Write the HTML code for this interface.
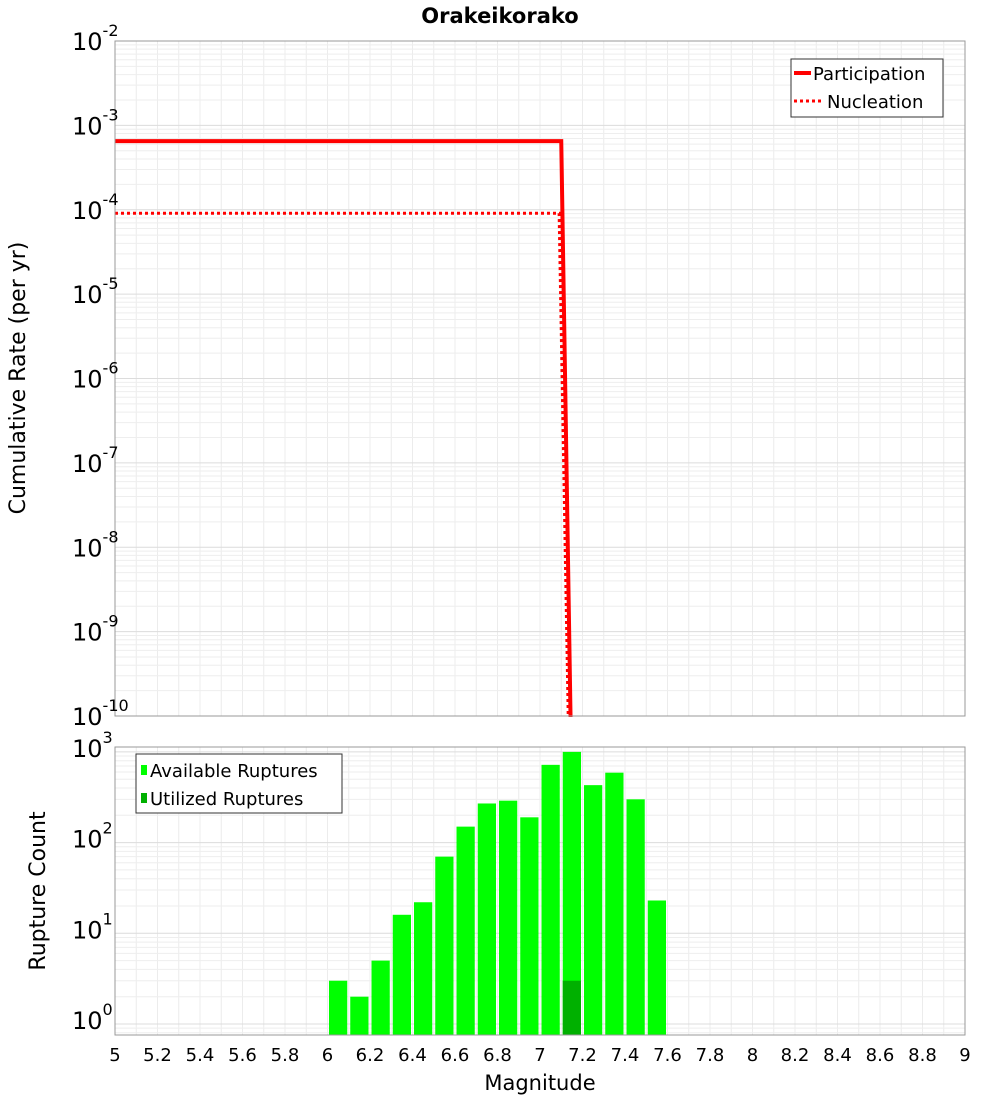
<!DOCTYPE html>
<html><head><meta charset="utf-8"><style>
body{margin:0;background:#fff;font-family:"Liberation Sans","DejaVu Sans",sans-serif}
</style></head><body>
<svg id="c" width="1000" height="1100" xmlns="http://www.w3.org/2000/svg" font-family="DejaVu Sans, Liberation Sans, sans-serif">
<text x="500" y="23" text-anchor="middle" font-weight="bold" font-size="21">Orakeikorako</text>
<g id="top"></g><g id="bot"></g>
<text transform="translate(25,378) rotate(-90)" text-anchor="middle" font-size="22">Cumulative Rate (per yr)</text>
<text transform="translate(45,891) rotate(-90)" text-anchor="middle" font-size="22">Rupture Count</text>
<text x="540" y="1090" text-anchor="middle" font-size="21">Magnitude</text>
</svg>
<script>
const partMags=[5.0,7.1,7.15];
const partRates=[6.5e-4,6.5e-4,1e-11];
const nuclMags=[5.0,7.09,7.14];
const nuclRates=[9.1e-5,9.1e-5,1e-11];
const binMags=[6.0,6.1,6.2,6.3,6.4,6.5,6.6,6.7,6.8,6.9,7.0,7.1,7.2,7.3,7.4,7.5];
const availCounts=[3,2,5,16,22,70,150,270,290,190,720,1000,430,590,300,23];
const usedMags=[7.1];
const usedCounts=[3];
const xTicks=[5,5.2,5.4,5.6,5.8,6,6.2,6.4,6.6,6.8,7,7.2,7.4,7.6,7.8,8,8.2,8.4,8.6,8.8,9];
const topExps=[-2,-3,-4,-5,-6,-7,-8,-9,-10];
const botExps=[3,2,1,0];

const NS='http://www.w3.org/2000/svg';
const X0=115,X1=965;
const xs=m=>X0+(m-5)/4*(X1-X0);
const T0=41,T1=716;
const yt=v=>T0+(-2-Math.log10(v))*(T1-T0)/8;
const B0=747,B1=1035;
const yb=v=>1024-Math.log10(v)*90.7;
function mk(p,tag,a,txt){const e=document.createElementNS(NS,tag);for(const k in a)e.setAttribute(k,a[k]);if(txt!==undefined)e.textContent=txt;p.appendChild(e);return e;}
const topG=document.getElementById('top'),botG=document.getElementById('bot');

function grid(g,y0,y1,ymap,lo,hi){
  for(let m=5;m<=9.0001;m+=0.1){const x=xs(m);
    const l=mk(g,'line',{x1:x,x2:x,y1:y0,y2:y1,stroke:'#ececec','stroke-width':1});
    
    }
  for(let e=lo;e<=hi;e++)for(let k=1;k<10;k++){const y=ymap(k*Math.pow(10,e));if(y<y0||y>y1)continue;
    const l=mk(g,'line',{x1:X0,x2:X1,y1:y,y2:y,stroke:k==1?'#dcdcdc':'#eeeeee','stroke-width':1});
    
    }
}
grid(topG,T0,T1,yt,-11,-2);
grid(botG,B0,B1,yb,-1,3);

function path(g,ms,vs,dash,name){
  const d=ms.map((m,i)=>(i?'L':'M')+xs(m)+','+Math.min(yt(vs[i]),T1+200)).join(' ');
  const p=mk(g,'path',{d:d,fill:'none',stroke:'#ff0000','stroke-width':dash?3:4,'stroke-dasharray':dash?'3,3':'none'});
  
  
}
const cp=mk(topG,'clipPath',{id:'cp'});mk(cp,'rect',{x:X0,y:T0,width:X1-X0,height:T1-T0+1});
const tg=mk(topG,'g',{'clip-path':'url(#cp)'});
path(tg,nuclMags,nuclRates,true,'nucleation-line');
path(tg,partMags,partRates,false,'participation-line');
const tf=mk(topG,'rect',{x:X0,y:T0,width:X1-X0,height:T1-T0,fill:'none',stroke:'#999'});



topExps.forEach(e=>{const y=yt(Math.pow(10,e));
  const t=mk(topG,'text',{x:72,y:y+9,'font-size':24});
  
  
  mk(t,'tspan',{},'10');mk(t,'tspan',{dy:-14,'font-size':16},String(e));});

const lg=mk(topG,'g',{});


mk(lg,'rect',{x:791,y:59,width:152,height:58,fill:'#fff',stroke:'#333'});
mk(lg,'line',{x1:794,x2:811,y1:73,y2:73,stroke:'#f00','stroke-width':4});
mk(lg,'text',{x:813,y:80,'font-size':18},'Participation');
mk(lg,'line',{x1:794,x2:822,y1:101,y2:101,stroke:'#f00','stroke-width':3,'stroke-dasharray':'3,3'});
mk(lg,'text',{x:827,y:108,'font-size':18},'Nucleation');

binMags.forEach((m,i)=>{const y=yb(availCounts[i]);
  const r=mk(botG,'rect',{x:xs(m)+1.5,y:y,width:xs(m+0.1)-xs(m)-3,height:B1-y,fill:'#00ff00'});
  
  });
usedMags.forEach((m,i)=>{const y=yb(usedCounts[i]);
  const r=mk(botG,'rect',{x:xs(m)+1.5,y:y,width:xs(m+0.1)-xs(m)-3,height:B1-y,fill:'#00b000'});
  
  });
const bf=mk(botG,'rect',{x:X0,y:B0,width:X1-X0,height:B1-B0,fill:'none',stroke:'#999'});


botExps.forEach(e=>{const y=yb(Math.pow(10,e));
  const t=mk(botG,'text',{x:72,y:y+5,'font-size':24});
  
  
  mk(t,'tspan',{},'10');mk(t,'tspan',{dy:-14,'font-size':16},String(e));});
xTicks.forEach(v=>{const t=mk(botG,'text',{x:xs(v),y:1061,'font-size':18,'text-anchor':'middle'},String(v));
  
  });
const bl=mk(botG,'g',{});


mk(bl,'rect',{x:136,y:754,width:206,height:59,fill:'#fff',stroke:'#333'});
mk(bl,'rect',{x:141,y:765,width:6,height:10,fill:'#00ff00'});
mk(bl,'text',{x:150,y:777,'font-size':18},'Available Ruptures');
mk(bl,'rect',{x:141,y:793,width:6,height:10,fill:'#00b000'});
mk(bl,'text',{x:150,y:805,'font-size':18},'Utilized Ruptures');
</script>
</body></html>
